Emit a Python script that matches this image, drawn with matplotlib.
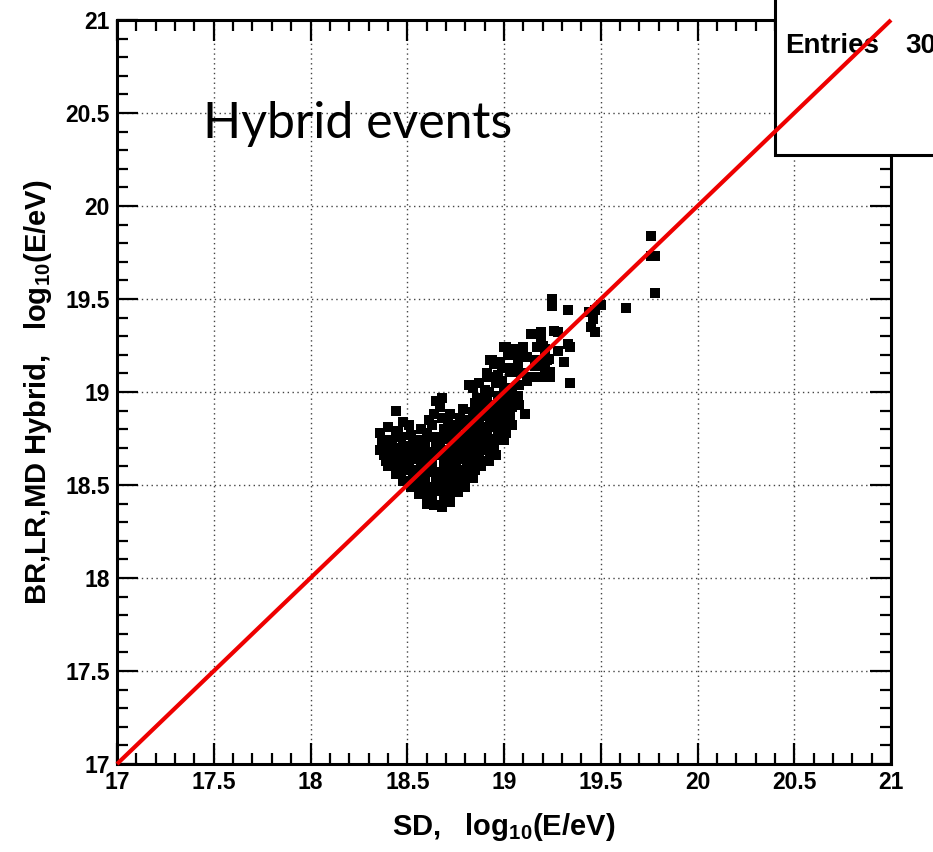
import matplotlib
matplotlib.use("Agg")
import matplotlib.pyplot as plt
from matplotlib.patches import Rectangle
from matplotlib.ticker import MultipleLocator, FuncFormatter

plt.rcParams["font.family"] = ["Liberation Sans", "DejaVu Sans"]
plt.rcParams["font.weight"] = "bold"
plt.rcParams["mathtext.fontset"] = "custom"
plt.rcParams["mathtext.rm"] = "Liberation Sans:bold"
plt.rcParams["mathtext.default"] = "rm"

# Energy of each event: surface detector (SD) vs. fluorescence hybrid (BR, LR, MD)
sd_energy = [
    18.36, 18.37, 18.36,
    18.40, 18.41, 18.40, 18.39, 18.40,
    18.44, 18.45, 18.44, 18.43, 18.44, 18.44,
    18.48, 18.47, 18.48, 18.49, 18.48, 18.47, 18.48,
    18.52, 18.53, 18.52, 18.51, 18.52, 18.53, 18.52, 18.51,
    18.56, 18.55, 18.56, 18.57, 18.56, 18.55, 18.56, 18.57,
    18.60, 18.61, 18.60, 18.59, 18.60, 18.61, 18.60, 18.59, 18.60, 18.61,
    18.64, 18.63, 18.64, 18.65, 18.64, 18.63, 18.64, 18.65, 18.64, 18.63, 18.64, 18.65,
    18.68, 18.69, 18.68, 18.67, 18.68, 18.69, 18.68, 18.67, 18.68, 18.69, 18.68, 18.67, 18.68,
    18.72, 18.71, 18.72, 18.73, 18.72, 18.71, 18.72, 18.73, 18.72, 18.71, 18.72,
    18.76, 18.77, 18.76, 18.75, 18.76, 18.77, 18.76, 18.75, 18.76, 18.77,
    18.80, 18.79, 18.80, 18.81, 18.80, 18.79, 18.80, 18.81, 18.80, 18.79,
    18.84, 18.85, 18.84, 18.83, 18.84, 18.85, 18.84, 18.83, 18.84, 18.85, 18.84,
    18.88, 18.87, 18.88, 18.89, 18.88, 18.87, 18.88, 18.89, 18.88, 18.87,
    18.92, 18.93, 18.92, 18.91, 18.92, 18.93, 18.92, 18.91, 18.92, 18.93,
    18.96, 18.95, 18.96, 18.97, 18.96, 18.95, 18.96, 18.97, 18.96, 18.95,
    19.00, 19.01, 19.00, 18.99, 19.00, 19.01, 19.00, 18.99, 19.00, 19.01,
    19.04, 19.03, 19.04, 19.05, 19.04, 19.03, 19.04,
    19.08, 19.07, 19.08, 19.09, 19.08,
    18.82, 18.91, 18.96, 18.94, 18.98, 19.00, 19.05, 19.07, 19.12, 19.03,
    19.04, 19.10, 19.15, 19.17, 19.22, 19.24, 19.31, 19.34, 19.14, 19.19,
    19.17, 19.21, 19.26, 19.33, 19.34, 19.25, 19.25, 19.33, 19.28, 19.21,
    19.50, 19.63, 19.44, 19.46, 19.45, 19.47, 19.47, 19.76, 19.76, 19.78,
    19.78, 19.05, 19.11, 18.93, 18.95, 18.99, 18.91, 19.21, 19.19, 19.24,
    19.17, 19.20, 19.23, 19.21,
    19.02, 19.07, 19.10, 18.97, 19.12, 19.16, 19.28, 18.86, 18.90, 18.58,
    18.62, 18.70, 18.74, 18.78, 18.50, 18.46,
    18.42, 18.46, 18.50, 18.42, 18.38, 18.54, 18.58, 18.62, 18.39, 18.45,
]
hybrid_energy = [
    18.69, 18.74, 18.78,
    18.60, 18.65, 18.69, 18.74, 18.81,
    18.56, 18.60, 18.65, 18.70, 18.76, 18.90,
    18.52, 18.57, 18.62, 18.66, 18.71, 18.76, 18.84,
    18.49, 18.54, 18.58, 18.63, 18.68, 18.72, 18.77, 18.82,
    18.45, 18.50, 18.55, 18.59, 18.64, 18.69, 18.74, 18.80,
    18.40, 18.44, 18.49, 18.54, 18.58, 18.63, 18.68, 18.73, 18.78, 18.85,
    18.39, 18.43, 18.48, 18.53, 18.57, 18.62, 18.66, 18.71, 18.76, 18.82, 18.88, 18.95,
    18.38, 18.43, 18.47, 18.52, 18.56, 18.61, 18.66, 18.70, 18.75, 18.80, 18.86, 18.92, 18.97,
    18.41, 18.46, 18.51, 18.55, 18.60, 18.65, 18.69, 18.74, 18.78, 18.83, 18.88,
    18.46, 18.50, 18.55, 18.59, 18.64, 18.68, 18.73, 18.77, 18.82, 18.86,
    18.49, 18.53, 18.58, 18.62, 18.67, 18.71, 18.76, 18.80, 18.85, 18.91,
    18.54, 18.58, 18.62, 18.67, 18.71, 18.75, 18.80, 18.84, 18.89, 18.94, 19.02,
    18.60, 18.65, 18.69, 18.74, 18.78, 18.83, 18.87, 18.92, 18.97, 19.05,
    18.63, 18.67, 18.72, 18.76, 18.81, 18.85, 18.90, 18.95, 19.00, 19.08,
    18.66, 18.71, 18.75, 18.80, 18.84, 18.89, 18.93, 18.98, 19.05, 19.16,
    18.74, 18.78, 18.83, 18.87, 18.92, 18.96, 19.01, 19.06, 19.13, 19.24,
    18.82, 18.87, 18.92, 18.97, 19.02, 19.11, 19.23,
    18.93, 18.98, 19.04, 19.10, 19.19,
    19.04, 19.08, 19.07, 19.17, 19.16, 19.24, 19.23, 19.19, 19.19, 19.13,
    19.11, 19.10, 19.08, 19.17, 19.17, 19.08, 19.16, 19.05, 19.31, 19.32,
    19.24, 19.23, 19.33, 19.26, 19.24, 19.50, 19.46, 19.44, 19.32, 19.20,
    19.47, 19.45, 19.43, 19.39, 19.35, 19.32, 19.44, 19.84, 19.73, 19.73,
    19.53, 18.98, 18.88, 19.17, 19.15, 19.13, 19.10, 19.12, 19.28, 19.11,
    19.08, 19.25, 19.18, 19.08,
    19.20, 19.14, 19.24, 19.09, 19.06, 19.14, 19.22, 18.97, 19.01, 18.47,
    18.43, 18.44, 18.47, 18.52, 18.58, 18.64,
    18.62, 18.67, 18.60, 18.72, 18.66, 18.66, 18.52, 18.46, 18.63, 18.79,
]

axis_min, axis_max = 17.0, 21.0
stats_name, stats_value = "Entries", "305"

fig = plt.figure(figsize=(9.33, 8.52), dpi=100)
ax = fig.add_axes([0.1254, 0.1033, 0.8296, 0.8732])

ax.set_xlim(axis_min, axis_max)
ax.set_ylim(axis_min, axis_max)

for spine in ax.spines.values():
    spine.set_linewidth(2.2)

ax.xaxis.set_major_locator(MultipleLocator(0.5))
ax.yaxis.set_major_locator(MultipleLocator(0.5))
ax.xaxis.set_minor_locator(MultipleLocator(0.1))
ax.yaxis.set_minor_locator(MultipleLocator(0.1))
ax.tick_params(which="both", direction="in", top=True, right=True,
               width=1.6, colors="black")
ax.tick_params(which="major", length=15, labelsize=16.5, pad=5)
ax.tick_params(which="minor", length=8)

ax.xaxis.set_major_formatter(FuncFormatter(lambda v, p: f"{v:g}"))
ax.yaxis.set_major_formatter(FuncFormatter(lambda v, p: f"{v:g}"))

ax.grid(which="major", color="#444444", linewidth=1.0, linestyle=(0, (1, 2.5)))
ax.set_axisbelow(True)

ax.plot(sd_energy, hybrid_energy, linestyle="none", marker="s", ms=7.3,
        color="black", markeredgewidth=0, zorder=3)

ax.plot([axis_min, axis_max], [axis_min, axis_max], color="#ee0000",
        linewidth=3.0, zorder=5, clip_on=False, solid_capstyle="butt")

ax.set_xlabel(r"SD,   log$_{10}$(E/eV)", fontsize=21, fontweight="bold", labelpad=12)
ax.set_ylabel(r"BR,LR,MD Hybrid,   log$_{10}$(E/eV)", fontsize=21,
              fontweight="bold", labelpad=8)

fig.text(0.2176, 0.838, "Hybrid events", fontsize=36, fontweight="normal",
         family=["Lato", "DejaVu Sans"], va="baseline", ha="left")

# statistics box in the upper right corner, running past the figure edge
box = Rectangle((0.8307, 0.818), 0.3, 0.3, transform=fig.transFigure,
                facecolor="white", edgecolor="black", linewidth=2.2,
                zorder=4, clip_on=False)
ax.add_artist(box)
ax.text(0.8414, 0.9378, stats_name, transform=fig.transFigure, fontsize=20,
        fontweight="bold", va="baseline", ha="left", zorder=4.5, clip_on=False)
ax.text(0.970, 0.9378, stats_value, transform=fig.transFigure, fontsize=20,
        fontweight="bold", va="baseline", ha="left", zorder=4.5, clip_on=False)

fig.savefig("out.png", dpi=100)
